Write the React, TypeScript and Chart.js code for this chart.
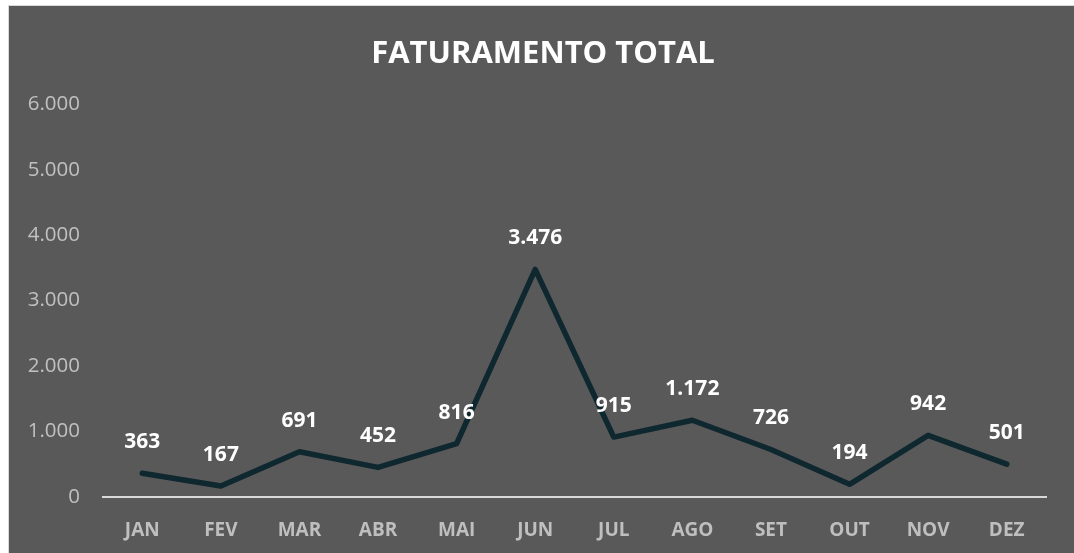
import React, { useEffect, useRef } from "react";
import { Chart, registerables } from "chart.js";

Chart.register(...registerables);

const months = ["JAN", "FEV", "MAR", "ABR", "MAI", "JUN", "JUL", "AGO", "SET", "OUT", "NOV", "DEZ"];
const faturamento = [363, 167, 691, 452, 816, 3476, 915, 1172, 726, 194, 942, 501];
const yTicks = [0, 1000, 2000, 3000, 4000, 5000, 6000];
const titleText = "FATURAMENTO TOTAL";

const fmt = (v: number) => v.toLocaleString("de-DE");

const FONT = "'Open Sans', 'DejaVu Sans', sans-serif";

const labelPlugin = {
  id: "pointLabels",
  afterDatasetsDraw(chart: any) {
    const ctx = chart.ctx;
    const meta = chart.getDatasetMeta(0);
    const data = chart.data.datasets[0].data as number[];
    ctx.save();
    ctx.fillStyle = "#ffffff";
    ctx.font = `bold 21px ${FONT}`;
    ctx.textAlign = "center";
    ctx.textBaseline = "middle";
    meta.data.forEach((pt: any, i: number) => {
      ctx.fillText(fmt(data[i]), pt.x, pt.y - 31);
    });
    ctx.restore();
  },
};

export default function App() {
  const ref = useRef<HTMLCanvasElement>(null);
  useEffect(() => {
    if (!ref.current) return;
    const chart = new Chart(ref.current, {
      type: "line",
      data: {
        labels: months,
        datasets: [
          {
            data: faturamento,
            borderColor: "#0f2830",
            borderWidth: 5.5,
            borderCapStyle: "round",
            borderJoinStyle: "round",
            pointRadius: 0,
            tension: 0,
            fill: false,
          },
        ],
      },
      options: {
        animation: false,
        responsive: false,
        devicePixelRatio: 1,
        layout: { padding: 0 },
        plugins: {
          legend: { display: false },
          tooltip: { enabled: false },
          title: {
            display: true,
            text: titleText,
            color: "#ffffff",
            font: { family: FONT, size: 31, weight: "bold", lineHeight: 1.2 },
            padding: { top: 30, bottom: 31 },
          },
        },
        scales: {
          x: {
            offset: true,
            grid: { display: true, color: "transparent", drawTicks: false },
            border: { display: true, color: "#d9d9d9", width: 2 },
            ticks: {
              color: "#bfbfbf",
              font: { family: FONT, size: 19, weight: "bold" },
              padding: 22,
            },
            afterFit: (s: any) => {
              s.height = 69;
            },
          },
          y: {
            min: 0,
            max: 6000,
            afterBuildTicks: (s: any) => {
              s.ticks = yTicks.map((v) => ({ value: v }));
            },
            grid: { display: false, drawTicks: false },
            border: { display: false },
            ticks: {
              color: "#c0c0c0",
              font: { family: FONT, size: 20.5 },
              padding: 23,
              callback: (v: any) => fmt(Number(v)),
            },
            afterFit: (s: any) => {
              s.width = 94;
            },
          },
          yRight: {
            position: "right",
            min: 0,
            max: 6000,
            grid: { display: false, drawTicks: false },
            border: { display: false },
            ticks: { display: false },
            afterFit: (s: any) => {
              s.width = 31;
            },
          },
        },
      },
      plugins: [labelPlugin],
    });
    return () => chart.destroy();
  }, []);

  return (
    <div style={{ position: "fixed", left: 0, top: 0, width: 1074, height: 553, overflow: "hidden", background: "#ffffff" }}>
      <div
        style={{
          position: "absolute",
          left: 8,
          top: 5,
          width: 1068,
          height: 560,
          border: "1px solid #d9d9d9",
          background: "#595959",
        }}
      >
        <canvas ref={ref} width={1068} height={560} style={{ display: "block" }} />
      </div>
    </div>
  );
}
